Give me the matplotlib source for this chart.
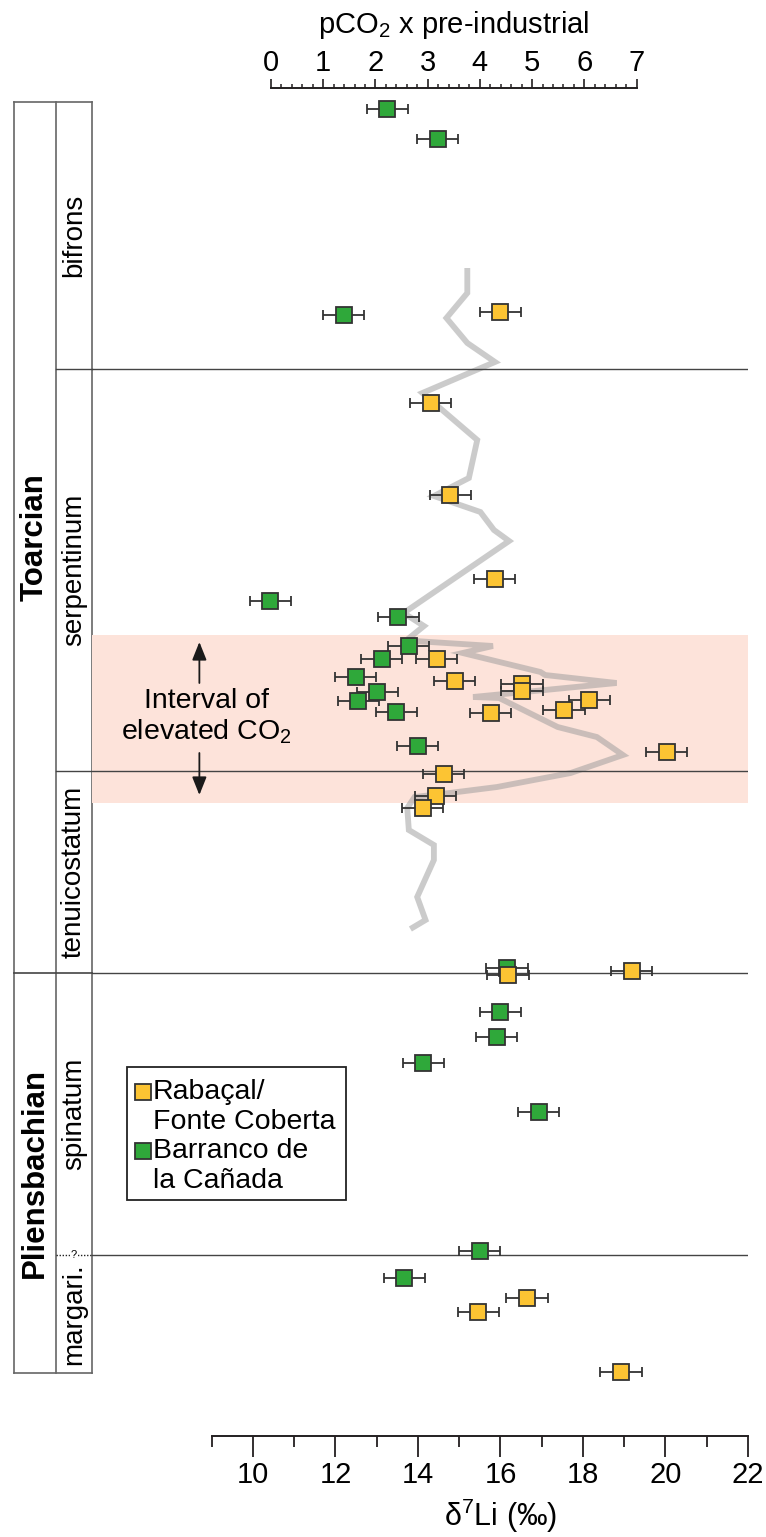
import numpy as np
import matplotlib
matplotlib.use('Agg')
import matplotlib.pyplot as plt
import matplotlib.transforms as mtransforms
from matplotlib.patches import Rectangle

plt.rcParams['font.family'] = ['Liberation Sans', 'DejaVu Sans']
plt.rcParams['mathtext.fontset'] = 'custom'
plt.rcParams['mathtext.rm'] = 'Liberation Sans'
plt.rcParams['mathtext.it'] = 'Liberation Sans:italic'

# ---- data (heights in arbitrary stratigraphic units, 0 = base of section) ----
# Rabacal / Fonte Coberta
rab_li = [16.00, 14.31, 14.78, 15.86, 14.45, 14.89, 16.52, 16.52, 18.15, 17.54,
          15.76, 20.03, 14.62, 14.43, 14.11, 16.18, 19.18, 16.64, 15.46, 18.92]
rab_h = [1124.3, 1033.0, 940.7, 857.3, 777.0, 755.0, 752.0, 745.3, 736.0, 726.0,
         723.3, 683.7, 662.0, 640.3, 628.3, 461.0, 465.3, 138.3, 124.3, 63.7]

# Barranco de la Canada
bar_li = [13.26, 14.48, 12.20, 10.42, 13.52, 13.77, 13.12, 12.49, 13.01, 12.55,
          13.47, 13.99, 16.16, 16.00, 15.91, 14.13, 16.93, 15.50, 13.67]
bar_h = [1326.7, 1297.0, 1120.7, 835.0, 819.3, 790.0, 777.0, 759.3, 744.0, 735.0,
         723.7, 690.0, 467.7, 424.3, 399.3, 372.7, 323.7, 185.0, 158.3]

li_err = 0.5

# pCO2 (x pre-industrial)
co2_x = [3.76, 3.76, 3.36, 3.76, 4.29, 2.90, 3.95, 3.79, 3.12, 4.01, 4.27, 4.56,
         2.54, 2.93, 2.67, 2.75, 4.25, 3.67, 5.16, 5.25, 6.62, 3.87, 4.37, 5.49,
         6.24, 6.74, 5.74, 4.33, 3.42, 2.75, 2.61, 2.64, 3.12, 3.12, 2.80, 2.96, 2.67]
co2_h = [1168, 1143, 1118, 1093, 1074, 1043, 996, 958, 940, 924, 906, 895,
         823, 810, 799, 795, 790, 783, 764, 761, 753, 739, 738, 709,
         699, 681, 663, 649, 643, 639, 628, 606, 591, 576, 539, 516, 507]

zones = ['bifrons', 'serpentinum', 'tenuicostatum', 'spinatum', 'margari.']
zone_edges = [1334, 1066.7, 665, 463.5, 181, 63]
stages = ['Toarcian', 'Pliensbachian']
stage_edges = [1334, 463.5, 63]
co2_interval = (632.7, 801.3)

yellow = '#fcc433'
green = '#2fa83a'
edge = '#333333'

W, H = 766, 1537
def box(l, t, r, b):
    return [l / W, 1 - b / H, (r - l) / W, (b - t) / H]

fig = plt.figure(figsize=(W / 100, H / 100), dpi=100)

# main axes (d7Li) + twin for pCO2
ax = fig.add_axes(box(92, 88, 748, 1436))
ax2 = ax.twiny()
ax.set_zorder(2)
ax2.set_zorder(1)
ax.patch.set_visible(False)

ax.set_xlim(6.097, 22.0)
ax2.set_xlim(-3.427, 9.135)
ax.set_ylim(0, 1348)

for s in ['left', 'right', 'top']:
    ax.spines[s].set_visible(False)
for s in ['left', 'right', 'bottom']:
    ax2.spines[s].set_visible(False)
ax.spines['bottom'].set_bounds(9, 22)
ax.spines['bottom'].set_linewidth(1.4)
ax.spines['bottom'].set_color('#231f20')
ax2.spines['top'].set_bounds(0, 7)
ax2.spines['top'].set_linewidth(1.4)
ax2.spines['top'].set_color('#231f20')

ax.set_yticks([])
ax2.set_yticks([])
ax.set_xticks(np.arange(10, 23, 2))
ax.set_xticks(np.arange(9, 22, 2), minor=True)
ax.tick_params(axis='x', which='major', direction='out', length=15, width=1.3,
               labelsize=21, pad=3, color='#231f20')
ax.tick_params(axis='x', which='minor', direction='out', length=8, width=1.3,
               color='#231f20')

ax2.set_xticks(np.arange(0, 8, 1))
ax2.set_xticks(np.arange(0, 7.01, 0.2), minor=True)
ax2.tick_params(axis='x', which='major', direction='out', length=6.7, width=1.2,
                labelsize=21, pad=1, color='#231f20')
ax2.tick_params(axis='x', which='minor', direction='out', length=3, width=1.1,
                color='#231f20')

# interval of elevated CO2 + pCO2 curve
ax2.axhspan(co2_interval[0], co2_interval[1], color='#fde3da', lw=0, zorder=0)
ax2.plot(co2_x, co2_h, color='#999999', alpha=0.5, lw=4.2,
         solid_joinstyle='miter', solid_capstyle='butt', zorder=2)

# zone boundaries across the plot
for h in zone_edges[1:-1]:
    ax.axhline(h, color='#444444', lw=1.0, zorder=1)

# samples
ax.errorbar(rab_li, rab_h, xerr=li_err, fmt='s', ms=11, mfc=yellow, mec=edge,
            mew=1.3, ecolor=edge, elinewidth=1.3, capsize=3.4, capthick=1.3, zorder=4)
ax.errorbar(bar_li, bar_h, xerr=li_err, fmt='s', ms=11, mfc=green, mec=edge,
            mew=1.3, ecolor=edge, elinewidth=1.3, capsize=3.4, capthick=1.3, zorder=3)

# axis labels
ax.text(16.0, -0.0595, r'δ$^\mathregular{7}$Li (‰)', fontsize=22, ha='center', va='center',
        transform=mtransforms.blended_transform_factory(ax.transData, ax.transAxes))
ax2.text(3.5, 1.047, r'pCO$_\mathregular{2}$ x pre-industrial', fontsize=21,
         ha='center', va='center',
         transform=mtransforms.blended_transform_factory(ax2.transData, ax2.transAxes))

# interval annotation
ax.text(8.88, 719, 'Interval of\nelevated CO$_\\mathregular{2}$', fontsize=20.5,
        ha='center', va='center', linespacing=1.2)
ax.annotate('', xy=(8.70, 794), xytext=(8.70, 753),
            arrowprops=dict(arrowstyle='-|>,head_length=0.55,head_width=0.22',
                            color='#1a1a1a', lw=1.3, mutation_scale=20,
                            shrinkA=0, shrinkB=0))
ax.annotate('', xy=(8.70, 641), xytext=(8.70, 683),
            arrowprops=dict(arrowstyle='-|>,head_length=0.55,head_width=0.22',
                            color='#1a1a1a', lw=1.3, mutation_scale=20,
                            shrinkA=0, shrinkB=0))

# legend (drawn by hand so the marker sits on the first line)
ax.add_patch(Rectangle((0.0534, 0.1751), 0.3338, 0.0986, transform=ax.transAxes,
                       fill=False, ec='#222222', lw=1.3, zorder=5))
legend_rows = [(yellow, ['Rabaçal/', 'Fonte Coberta'], 0.2552),
               (green, ['Barranco de', 'la Cañada'], 0.2114)]
for col, lines, yy in legend_rows:
    ax.plot([0.0777], [yy], 's', ms=11, mfc=col, mec=edge, mew=1.3,
            transform=ax.transAxes, zorder=6)
    for i, t in enumerate(lines):
        ax.text(0.0930, yy - i * 0.0223, t, fontsize=20.5, va='center',
                transform=ax.transAxes)

# stratigraphic columns
col = fig.add_axes(box(14, 88, 92, 1436), sharey=ax)
col.set_xlim(0, 78)
col.axis('off')
lc = '#666666'
top, bot = zone_edges[0], zone_edges[-1]
for x in [0, 42, 78]:
    col.plot([x, x], [bot, top], color=lc, lw=1.2, clip_on=False)
for y in [top, bot, stage_edges[1]]:
    col.plot([0, 78], [y, y], color=lc if y != stage_edges[1] else '#444444',
             lw=1.2, clip_on=False)
for y in zone_edges[1:3]:
    col.plot([42, 78], [y, y], color='#444444', lw=1.0, clip_on=False)
col.plot([42, 78], [zone_edges[4], zone_edges[4]], color='#222222', lw=1.0, ls=(0, (1, 1.2)))
col.text(60, zone_edges[4], '?', fontsize=8, ha='center', va='center',
         bbox=dict(fc='white', ec='none', pad=0.3))

for i, z in enumerate(zones):
    yc = (zone_edges[i] + zone_edges[i + 1]) / 2
    col.text(60, yc, z, rotation=90, ha='center', va='center', fontsize=20)
for i, s in enumerate(stages):
    yc = (stage_edges[i] + stage_edges[i + 1]) / 2
    col.text(21, yc, s, rotation=90, ha='center', va='center', fontsize=22.5,
             fontweight='bold')

fig.savefig('out.png', dpi=100)
